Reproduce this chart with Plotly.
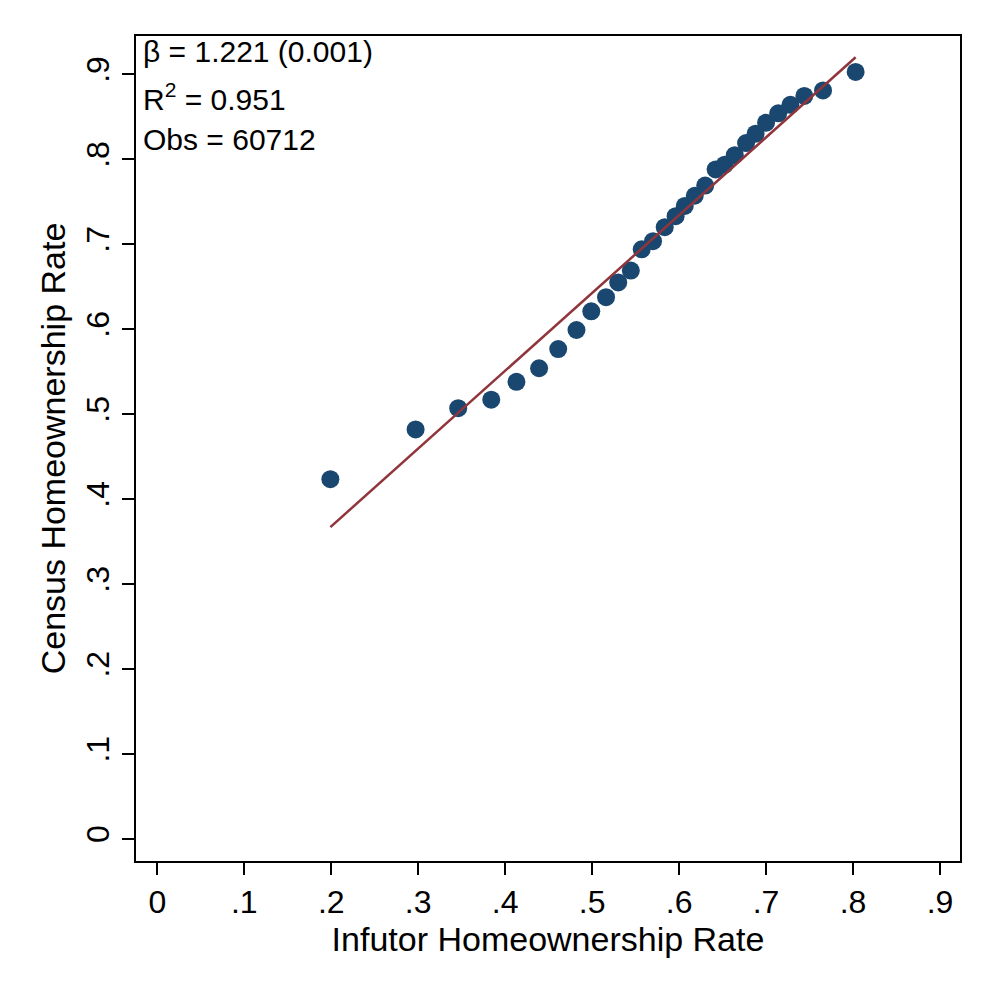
import plotly.graph_objects as go

# binned means
infutor_rate = [0.199, 0.297, 0.346, 0.384, 0.413, 0.439, 0.461, 0.482, 0.499, 0.516,
                0.530, 0.5445, 0.557, 0.570, 0.5835, 0.596, 0.6065, 0.618, 0.630, 0.642,
                0.6525, 0.664, 0.677, 0.688, 0.700, 0.714, 0.728, 0.744, 0.7655, 0.803]
census_rate = [0.4235, 0.482, 0.507, 0.517, 0.538, 0.554, 0.5765, 0.599, 0.621, 0.6376,
               0.655, 0.669, 0.694, 0.7035, 0.720, 0.733, 0.745, 0.757, 0.769, 0.788,
               0.7935, 0.8047, 0.819, 0.830, 0.843, 0.854, 0.864, 0.8745, 0.881, 0.9027]

# fitted line endpoints
fit_x = [0.199, 0.803]
fit_y = [0.367, 0.920]

tick_vals = [0, 0.1, 0.2, 0.3, 0.4, 0.5, 0.6, 0.7, 0.8, 0.9]
tick_text = ['0', '.1', '.2', '.3', '.4', '.5', '.6', '.7', '.8', '.9']

stats_lines = ['\u03b2 = 1.221 (0.001)', 'R<sup>2</sup> = 0.951', 'Obs = 60712']
stats_y = [0.981, 0.926, 0.874]

FONT = 'Liberation Sans, Arial, sans-serif'

fig = go.Figure()
fig.add_trace(go.Scatter(
    x=infutor_rate,
    y=census_rate,
    mode='markers',
    marker=dict(color='#1a476f', size=18, line=dict(width=0)),
    showlegend=False
))
fig.add_trace(go.Scatter(
    x=fit_x,
    y=fit_y,
    mode='lines',
    line=dict(color='#90353b', width=2.5),
    showlegend=False
))

for txt, ypos in zip(stats_lines, stats_y):
    fig.add_annotation(
        x=0.006, y=ypos,
        xref='paper', yref='paper',
        xanchor='left', yanchor='middle',
        text=txt, showarrow=False,
        font=dict(family=FONT, size=30, color='black')
    )

axis_common = dict(
    showgrid=False, zeroline=False,
    showline=True, linecolor='black', linewidth=2, mirror=True,
    ticks='outside', ticklen=12, tickwidth=1.5, tickcolor='black',
    tickvals=tick_vals, ticktext=tick_text,
    tickfont=dict(family=FONT, size=32, color='black'),
)

# page body has an 8px margin, so the figure is a bit smaller than the window
fig.update_layout(
    width=989, height=989,
    margin=dict(l=128, r=37, t=28, b=136),
    paper_bgcolor='white', plot_bgcolor='white',
    font=dict(family=FONT, color='black'),
    xaxis=dict(range=[-0.0245, 0.923],
               title=dict(text='Infutor Homeownership Rate', font=dict(size=34), standoff=0),
               **axis_common),
    yaxis=dict(range=[-0.0259, 0.945], tickangle=-90,
               title=dict(text='Census Homeownership Rate', font=dict(size=34), standoff=4),
               **axis_common),
)

fig.write_html('out.html')
